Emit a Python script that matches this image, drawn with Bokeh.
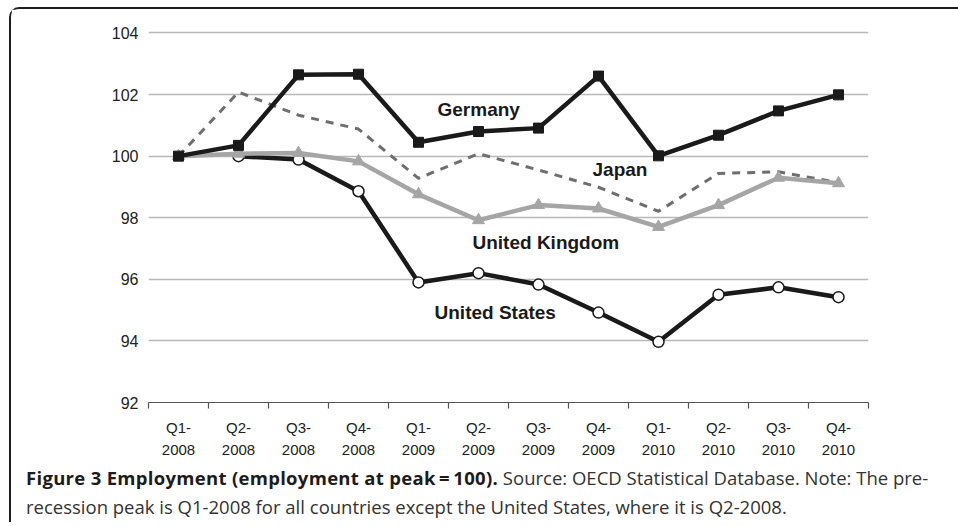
from bokeh.plotting import figure
from bokeh.models import FixedTicker, Label, Range1d, Div
from bokeh.layouts import column
from bokeh.embed import file_html
from bokeh.resources import INLINE

# ---- data ----
quarters = ["Q1-2008", "Q2-2008", "Q3-2008", "Q4-2008",
            "Q1-2009", "Q2-2009", "Q3-2009", "Q4-2009",
            "Q1-2010", "Q2-2010", "Q3-2010", "Q4-2010"]
germany = [100.0, 100.35, 102.64, 102.66, 100.45, 100.80, 100.91, 102.60, 100.01, 100.68, 101.47, 101.99]
japan = [100.0, 102.08, 101.33, 100.88, 99.28, 100.08, 99.55, 98.99, 98.21, 99.44, 99.49, 99.14]
united_kingdom = [100.0, 100.08, 100.10, 99.83, 98.76, 97.92, 98.41, 98.30, 97.70, 98.41, 99.30, 99.12]
us_quarters = quarters[1:]
united_states = [100.0, 99.89, 98.86, 95.90, 96.20, 95.83, 94.92, 93.97, 95.50, 95.74, 95.42]
y_ticks = [92, 94, 96, 98, 100, 102, 104]

caption_bold = "Figure 3 Employment (employment at peak\u2009=\u2009100)."
caption_rest_1 = "Source: OECD Statistical Database. Note: The pre-"
caption_rest_2 = "recession peak is Q1-2008 for all countries except the United States, where it is Q2-2008."

idx = {q: i for i, q in enumerate(quarters)}
x_all = [idx[q] for q in quarters]
x_us = [idx[q] for q in us_quarters]

W, H = 947, 453
p = figure(width=W, height=H, output_backend="svg", toolbar_location=None,
           x_range=Range1d(-0.5, len(quarters) - 0.5), y_range=Range1d(92, 104.21),
           min_border_left=137, min_border_right=90, min_border_top=17, min_border_bottom=60,
           background_fill_color="white", border_fill_color="white")
p.outline_line_color = None

# x axis
xa = p.xaxis[0]
xa.ticker = FixedTicker(ticks=x_all, minor_ticks=[i - 0.5 for i in range(len(quarters) + 1)])
xa.major_label_overrides = {i: q.replace("-", "-\n") for i, q in enumerate(quarters)}
xa.major_tick_out = 0
xa.major_tick_in = 0
xa.minor_tick_out = 6
xa.minor_tick_in = 0
xa.minor_tick_line_color = "#555555"
xa.minor_tick_line_width = 1.2
xa.axis_line_color = "#555555"
xa.axis_line_width = 1.2
xa.major_label_standoff = 10
xa.major_label_text_font = "Liberation Sans"
xa.major_label_text_font_size = "15px"
xa.major_label_text_color = "#222222"
xa.major_label_text_line_height = 1.3

# y axis
ya = p.yaxis[0]
ya.ticker = FixedTicker(ticks=y_ticks)
ya.axis_line_color = None
ya.major_tick_line_color = None
ya.major_tick_out = 0
ya.major_tick_in = 0
ya.minor_tick_line_color = None
ya.major_label_standoff = 10
ya.major_label_text_font = "Liberation Sans"
ya.major_label_text_font_size = "16px"
ya.major_label_text_color = "#222222"

p.xgrid.visible = False
p.ygrid.ticker = FixedTicker(ticks=y_ticks[1:])
p.ygrid.grid_line_color = "#b8b8b8"
p.ygrid.grid_line_width = 1.3

# series
p.line(x_all, japan, line_color="#6e6e6e", line_width=3, line_dash="8 7")
p.line(x_us, united_states, line_color="#1a1a1a", line_width=4.5)
p.scatter(x_us, united_states, marker="circle", size=11, fill_color="white",
          line_color="#1a1a1a", line_width=1.5)
p.line(x_all, united_kingdom, line_color="#a5a5a5", line_width=4.5)
p.scatter(x_all, united_kingdom, marker="triangle", size=12, fill_color="#a5a5a5", line_color="#a5a5a5")
p.line(x_all, germany, line_color="#1a1a1a", line_width=4.5)
p.scatter(x_all, germany, marker="square", size=10, fill_color="#1a1a1a", line_color="#1a1a1a")

# series labels
lab = dict(text_font="Liberation Sans", text_font_style="bold", text_font_size="19px",
           text_color="#1a1a1a", text_baseline="alphabetic", text_align="left")
p.add_layout(Label(x=4.317, y=101.53, text="Germany", **lab))
p.add_layout(Label(x=6.9, y=99.56, text="Japan", **lab))
p.add_layout(Label(x=4.9, y=97.18, text="United Kingdom", **lab))
p.add_layout(Label(x=4.267, y=94.91, text="United States", **lab))

# caption below the chart
cap = Div(
    text=(f'<b style="color:#1e1b1c;font-weight:700;letter-spacing:0.3px">{caption_bold}</b> '
          f'{caption_rest_1}<br>{caption_rest_2}'),
    width=W, height=60,
    styles={"font-family": "'Open Sans'", "font-size": "18.5px", "line-height": "29px",
            "color": "#333333", "padding-top": "1px", "padding-left": "15px",
            "white-space": "nowrap", "margin": "0"},
)

layout = column(p, cap, spacing=0,
                styles={"margin-left": "9px", "margin-top": "7px",
                        "border-top": "2px solid #1e1e1e", "border-left": "2px solid #1e1e1e",
                        "border-top-left-radius": "10px"})

open("out.html", "w").write(file_html(layout, INLINE))
